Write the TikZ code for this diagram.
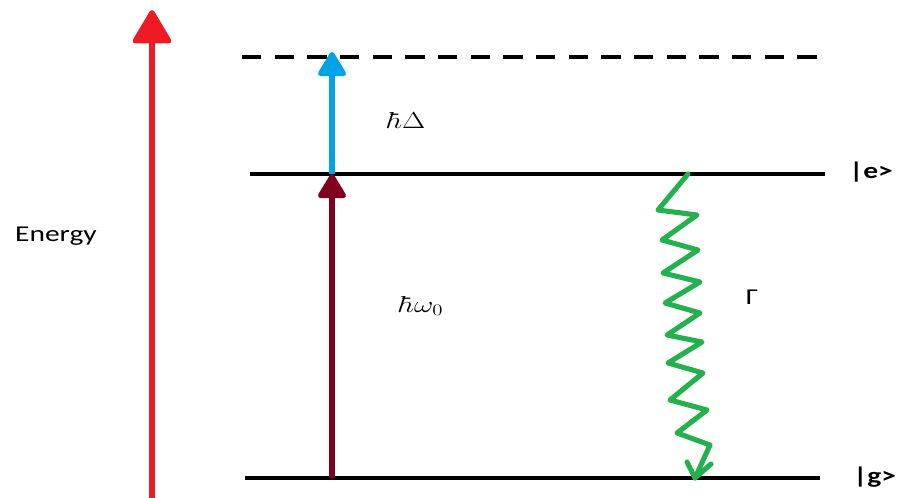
\documentclass[tikz,border=0pt]{standalone}
\usepackage{fontspec}
\setmainfont{Carlito}
\usetikzlibrary{arrows.meta}
\definecolor{ered}{RGB}{237,28,36}
\definecolor{eblue}{RGB}{0,162,232}
\definecolor{edark}{RGB}{128,0,32}
\definecolor{egreen}{RGB}{34,177,76}
\tikzset{
  level/.style={line width=2.3pt, black},
  txt/.style={inner sep=0pt, font=\fontsize{17}{20}\selectfont},
  sx/.style={xscale=1.3, transform shape},
}
\begin{document}
\begin{tikzpicture}[x=0.75pt,y=-0.75pt]
\useasboundingbox (0,0) rectangle (898,497);
% coordinates
\coordinate (rb) at (152,500);
\coordinate (rt) at (152,10);
\coordinate (gL) at (245,478);
\coordinate (gR) at (820,478);
\coordinate (eL) at (250,174);
\coordinate (eR) at (825,174);
\coordinate (dL) at (242,57);
\coordinate (dR) at (822,57);
\coordinate (pg) at (332,478);
\coordinate (pe) at (332,174);
\coordinate (pd) at (332,52);
% levels
\draw[level] (gL) -- (gR);
\draw[level] (eL) -- (eR);
\draw[level, dash pattern=on 14.5pt off 10pt] (dL) -- (dR);
% energy arrow
\draw[ered, line width=3.8pt, -{Triangle[length=27pt,width=31pt,round]}] (rb) -- (rt);
% transitions
\draw[edark, line width=3.8pt, -{Triangle[length=20pt,width=23pt,round]}] (pg) -- (pe);
\draw[eblue, line width=3.8pt, -{Triangle[length=20pt,width=23pt,round]}] (pe) -- (pd);
% decay zigzag
\coordinate (z0) at (688,174);
\coordinate (z1) at (695,478);
\draw[egreen, line width=3.8pt, line join=round, line cap=round]
  (z0) -- (658,210) -- (697,215) -- (662,240) -- (698,250) -- (663,273) -- (700,282)
  -- (665,303) -- (700,313) -- (667,335) -- (702,342) -- (668,363) -- (703,373)
  -- (670,400) -- (707,410) -- (677,433) -- (710,445) -- (z1);
\coordinate (h1) at (687,462);
\coordinate (h2) at (711,464);
\draw[egreen, line width=3.8pt, line cap=round, line join=round] (h1) -- (z1) -- (h2);
% labels
\node[txt, sx] (energy) at (56,236) {Energy};
\node[txt, sx] (hd) at (407,120) {$\hbar\Delta$};
\node[txt, sx] (hw) at (422,306) {$\hbar\omega_0$};
\node[txt, sx] (gam) at (752,297) {Γ};
\node[txt, sx, anchor=west] (ke) at (849,172) {\bfseries|e>};
\node[txt, sx, anchor=west] (kg) at (853,477) {\bfseries|g>};
\end{tikzpicture}
\end{document}
